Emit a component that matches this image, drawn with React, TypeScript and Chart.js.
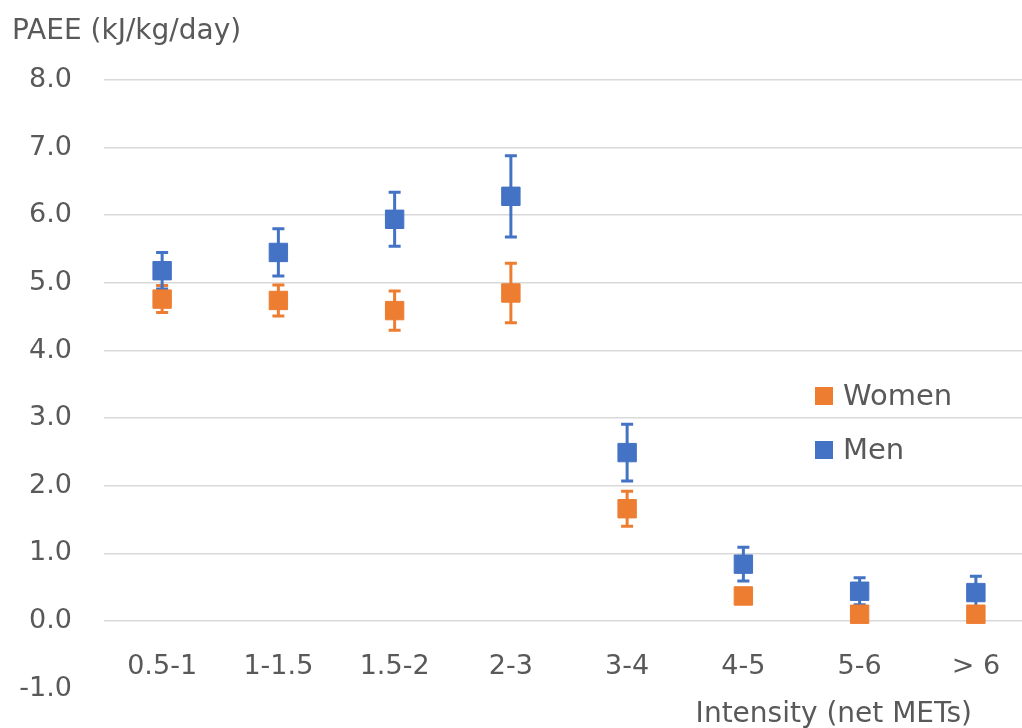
import React, { useEffect, useRef } from "react";
import { Chart, registerables } from "chart.js";

Chart.register(...registerables);

const categories = ["0.5-1", "1-1.5", "1.5-2", "2-3", "3-4", "4-5", "5-6", "> 6"];
const womenValues = [4.76, 4.74, 4.59, 4.85, 1.66, 0.37, 0.1, 0.1];
const womenErrors = [0.2, 0.23, 0.29, 0.44, 0.26, 0.06, 0.05, 0.06];
const menValues = [5.18, 5.45, 5.94, 6.28, 2.49, 0.84, 0.44, 0.42];
const menErrors = [0.27, 0.35, 0.4, 0.6, 0.42, 0.25, 0.2, 0.24];
const yTickMin = -1;
const yTickMax = 8;
const yTitle = "PAEE (kJ/kg/day)";
const xTitle = "Intensity (net METs)";

const WOMEN = "#ED7D31";
const MEN = "#4472C4";
const TEXT = "#595959";
const FONT = "'DejaVu Sans', sans-serif";

const errorBarPlugin = {
  id: "errorBars",
  beforeDatasetsDraw(chart: any) {
    const { ctx } = chart;
    const yScale = chart.scales.y;
    chart.data.datasets.forEach((ds: any, i: number) => {
      const meta = chart.getDatasetMeta(i);
      const errs: number[] = ds.errors;
      ctx.save();
      ctx.strokeStyle = ds.borderColor;
      ctx.lineWidth = 3;
      meta.data.forEach((el: any, j: number) => {
        const v = ds.data[j];
        const e = errs[j];
        const x = el.x;
        const yt = yScale.getPixelForValue(v + e);
        const yb = yScale.getPixelForValue(v - e);
        ctx.beginPath();
        ctx.moveTo(x, yt);
        ctx.lineTo(x, yb);
        ctx.moveTo(x - 6, yt);
        ctx.lineTo(x + 6, yt);
        ctx.moveTo(x - 6, yb);
        ctx.lineTo(x + 6, yb);
        ctx.stroke();
      });
      ctx.restore();
    });
  },
};

const extrasPlugin = {
  id: "extras",
  afterDraw(chart: any) {
    const { ctx, chartArea } = chart;
    ctx.save();
    ctx.font = `29px ${FONT}`;
    ctx.fillStyle = TEXT;
    const items = [
      { label: "Women", color: WOMEN },
      { label: "Men", color: MEN },
    ];
    const lx = chartArea.left + 711;
    items.forEach((it, k) => {
      const cy = chartArea.top + 316 + k * 54;
      ctx.fillStyle = it.color;
      ctx.fillRect(lx, cy - 9, 18, 18);
      ctx.fillStyle = TEXT;
      ctx.textAlign = "left";
      ctx.textBaseline = "middle";
      ctx.fillText(it.label, lx + 28, cy + 1);
    });
    ctx.font = `28px ${FONT}`;
    ctx.textAlign = "right";
    ctx.textBaseline = "alphabetic";
    ctx.fillText(xTitle, chartArea.left + 868, chart.height - 6);
    ctx.restore();
  },
};

export default function App() {
  const ref = useRef<HTMLCanvasElement | null>(null);
  useEffect(() => {
    if (!ref.current) return;
    const chart = new Chart(ref.current, {
      type: "line",
      data: {
        labels: categories,
        datasets: [
          {
            label: "Women",
            data: womenValues,
            errors: womenErrors,
            showLine: false,
            borderColor: WOMEN,
            backgroundColor: WOMEN,
            pointStyle: "rect",
            pointRadius: 13,
            pointBorderWidth: 1,
            pointHoverRadius: 13,
          } as any,
          {
            label: "Men",
            data: menValues,
            errors: menErrors,
            showLine: false,
            borderColor: MEN,
            backgroundColor: MEN,
            pointStyle: "rect",
            pointRadius: 13,
            pointBorderWidth: 1,
            pointHoverRadius: 13,
          } as any,
        ],
      },
      options: {
        animation: false,
        responsive: true,
        maintainAspectRatio: false,
        layout: { padding: { left: 12, right: 6, top: 0, bottom: 39.4 } },
        plugins: {
          legend: { display: false },
          tooltip: { enabled: false },
          title: {
            display: true,
            text: yTitle,
            align: "start",
            color: TEXT,
            font: { family: FONT, size: 28, weight: "normal" },
            padding: { top: 15, bottom: 31.4 },
          },
        },
        scales: {
          x: {
            type: "category",
            position: { y: 0 } as any,
            offset: true,
            grid: { display: false, drawTicks: false },
            border: { display: false },
            ticks: {
              color: TEXT,
              font: { family: FONT, size: 27 },
              padding: 30,
              maxRotation: 0,
              autoSkip: false,
            },
          },
          y: {
            min: yTickMin,
            max: yTickMax,
            grid: {
              drawTicks: true,
              tickLength: 26,
              tickColor: "rgba(0,0,0,0)",
              lineWidth: 1.5,
              color: (c: any) => (c.tick && c.tick.value < 0 ? "rgba(0,0,0,0)" : "#d9d9d9"),
            },
            border: { display: false },
            ticks: {
              stepSize: 1,
              color: TEXT,
              font: { family: FONT, size: 27 },
              padding: 6,
              callback: (v: any) => Number(v).toFixed(1),
            },
            afterFit: (scale: any) => {
              scale.width = 92;
            },
          },
        },
      },
      plugins: [errorBarPlugin, extrasPlugin],
    });
    return () => chart.destroy();
  }, []);

  return (
    <div
      style={{
        position: "fixed",
        left: 0,
        top: 0,
        width: 1022,
        height: 728,
        overflow: "hidden",
        background: "#fff",
      }}
    >
      <div style={{ position: "relative", width: 1048, height: 728 }}>
        <canvas ref={ref} />
      </div>
    </div>
  );
}
